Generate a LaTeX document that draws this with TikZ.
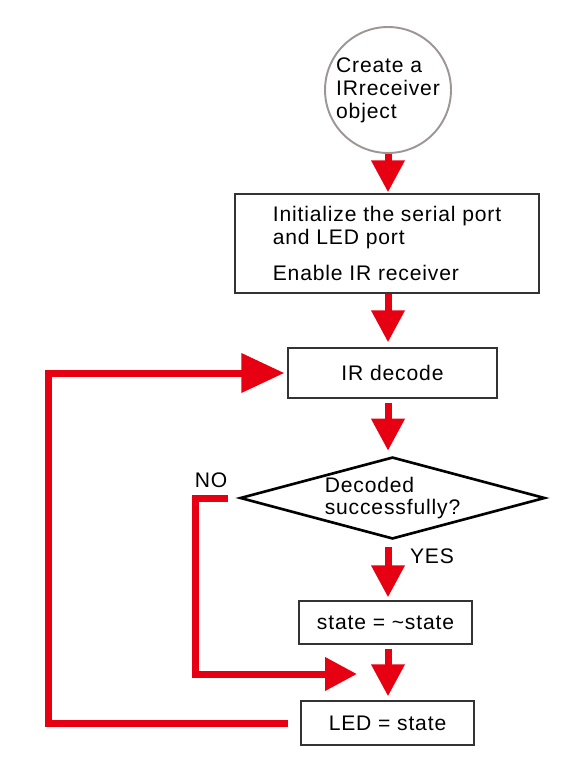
\documentclass[tikz,border=0pt]{standalone}
\usepackage{fontspec}
\setmainfont{Liberation Sans}[LetterSpace=4]
\usetikzlibrary{arrows.meta,shapes.geometric}

\definecolor{flowred}{HTML}{E60012}
\definecolor{ringgray}{HTML}{9E9696}
\definecolor{boxgray}{HTML}{333333}

\tikzset{
  flow/.style={draw=flowred, line width=0.14cm, line join=miter,
    -{Triangle[width=0.64cm,length=0.64cm]}},
  loopflow/.style={flow, -{Triangle[width=0.76cm,length=0.86cm]}},
  startring/.style={circle, draw=ringgray, line width=1.1pt, minimum size=2.52cm,
    inner sep=0pt, align=left},
  stepbox/.style={rectangle, draw=boxgray, line width=0.8pt, align=left, inner sep=0pt},
  testdiamond/.style={diamond, draw=black, line width=1.5pt, inner sep=0pt,
    minimum width=6.1cm, minimum height=1.64cm},
}

\begin{document}
\begin{tikzpicture}[x=0.02cm, y=-0.02cm, font=\fontsize{12}{13}\selectfont]

    \useasboundingbox (0,0) rectangle (575,763);

    % Start
    \node[startring] (create) at (388,90) {Create a\\IRreceiver\\object};

    % Setup
    \node[stepbox, minimum width=6.08cm, minimum height=1.98cm] (init) at (387,243.5)
        {Initialize the serial port\\and LED port\\[0.26cm]Enable IR receiver};

    % Decode
    \node[stepbox, minimum width=4.18cm, minimum height=1cm] (decode) at (392.5,373) {IR decode};

    % Test
    \node[testdiamond] (check) at (392.5,498) {};
    \node[align=left] (checktext) at (check.center) {Decoded\\successfully?};
    \node (nolabel) at (211,480) {NO};
    \node (yeslabel) at (432,556) {YES};

    % Toggle and output
    \node[stepbox, minimum width=3.46cm, minimum height=0.86cm] (toggle) at (385.5,622.5) {state = \textasciitilde state};
    \node[stepbox, minimum width=3.46cm, minimum height=0.88cm] (led) at (387.5,723) {LED = state};

    % Bends of the side paths
    \coordinate (nojoin) at (357,674);
    \coordinate (nobend) at (195.5,674);
    \coordinate (loopbend) at (48,373);

    % --- Main flow ---
    \draw[flow, shorten >=0.02cm] (create.south) -- (create.south |- init.north);
    \draw[flow, shorten >=0.1cm] (create.south |- init.south) -- (create.south |- decode.north);
    \draw[flow, shorten <=0.08cm, shorten >=0.1cm] (create.south |- decode.south) -- (create.south |- check.north);
    \draw[flow, shorten <=0.14cm, shorten >=0.06cm] (create.south |- check.south) -- (create.south |- toggle.north);
    \draw[flow, shorten <=0.08cm, shorten >=0.08cm] (create.south |- toggle.south) -- (create.south |- led.north);

    % --- NO branch ---
    \draw[flow, shorten <=0.22cm] (check.west) -| (nobend) -- (nojoin);

    % --- Loop back to decode ---
    \draw[loopflow, shorten <=0.24cm, shorten >=0.06cm] (led.west) -| (loopbend) -- (decode.west);

\end{tikzpicture}
\end{document}
